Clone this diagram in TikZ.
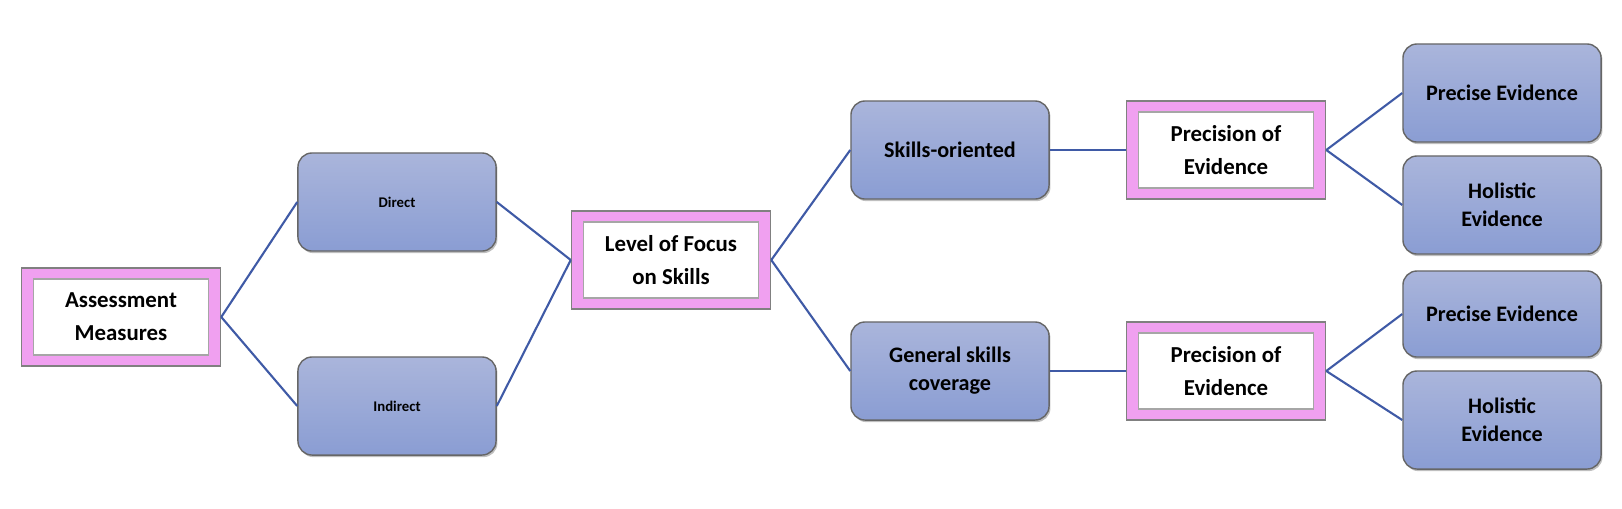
\documentclass[tikz,border=0pt]{standalone}
\usepackage{fontspec}
\setmainfont{Carlito}
\usetikzlibrary{calc,positioning,shadows}
\definecolor{bluetop}{HTML}{AAB5DB}
\definecolor{bluebot}{HTML}{8A9DD3}
\definecolor{pinkfill}{HTML}{F0A0F0}
\definecolor{linkblue}{HTML}{3F5AA6}
\tikzset{
  bluebox/.style={draw=gray!80!black, rounded corners=4pt, top color=bluetop, bottom color=bluebot,
    minimum width=1.98cm, minimum height=0.98cm, align=center, font=\bfseries\fontsize{6.3}{8}\selectfont,
    drop shadow={shadow xshift=0.4pt, shadow yshift=-0.6pt, opacity=0.5}},
  pinkbox/.style={draw=gray, fill=pinkfill, minimum width=1.99cm, minimum height=0.98cm, align=center,
    font=\bfseries\fontsize{6.5}{9.3}\selectfont,
    path picture={\filldraw[white, draw=gray!70]
      ($(path picture bounding box.south west)+(0.12cm,0.11cm)$) rectangle
      ($(path picture bounding box.north east)+(-0.12cm,-0.11cm)$);}},
  small/.style={font=\bfseries\fontsize{4.2}{5}\selectfont},
  link/.style={draw=linkblue, line width=0.6pt}
}
\begin{document}
\begin{tikzpicture}[x=0.01cm, y=-0.01cm]
  \useasboundingbox (0,0) rectangle (1622,508);
  \node[pinkbox] (assess) at (121,317) {Assessment\\Measures};
  \node[bluebox, small] (direct) at (397,202) {Direct};
  \node[bluebox, small] (indirect) at (397,406) {Indirect};
  \node[pinkbox] (focus) at (671,260) {Level of Focus\\on Skills};
  \node[bluebox] (skills) at (950,150) {Skills-oriented};
  \node[bluebox] (general) at (950,371) {General skills\\coverage};
  \node[pinkbox] (prec1) at (1226,150) {Precision of\\Evidence};
  \node[pinkbox] (prec2) at (1226,371) {Precision of\\Evidence};
  \node[bluebox] (precise1) at (1502,93) {Precise Evidence};
  \node[bluebox] (holist1) at (1502,205) {Holistic\\Evidence};
  \node[bluebox, minimum height=0.86cm] (precise2) at (1502,314) {Precise Evidence};
  \node[bluebox] (holist2) at (1502,420) {Holistic\\Evidence};

  \draw[link] (assess.east) -- (direct.west);
  \draw[link] (assess.east) -- (indirect.west);
  \draw[link] (direct.east) -- (focus.west);
  \draw[link] (indirect.east) -- (focus.west);
  \draw[link] (focus.east) -- (skills.west);
  \draw[link] (focus.east) -- (general.west);
  \draw[link] (skills.east) -- (prec1.west);
  \draw[link] (general.east) -- (prec2.west);
  \draw[link] (prec1.east) -- (precise1.west);
  \draw[link] (prec1.east) -- (holist1.west);
  \draw[link] (prec2.east) -- (precise2.west);
  \draw[link] (prec2.east) -- (holist2.west);
\end{tikzpicture}
\end{document}
